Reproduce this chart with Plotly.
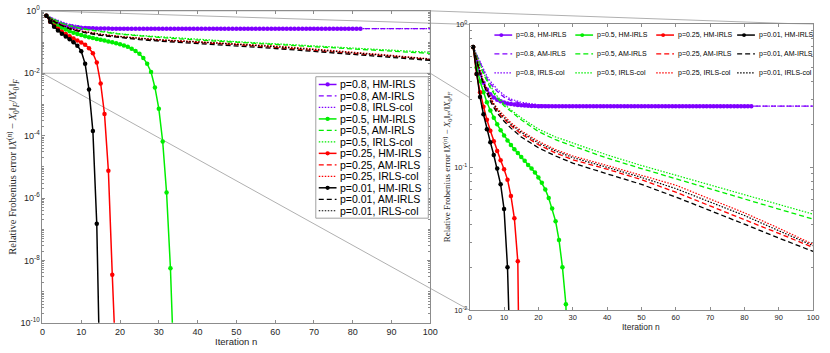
import plotly.graph_objects as go

W, H = 830, 353

# ---------------- data ----------------
it_hm08 = list(range(1, 83))
hm08 = [0.695, 0.55, 0.45, 0.39, 0.35, 0.325, 0.308, 0.297, 0.29, 0.284,
        0.28, 0.277, 0.275, 0.273, 0.272, 0.271, 0.270, 0.269, 0.269, 0.268,
        0.268, 0.268, 0.268, 0.268, 0.268, 0.268, 0.268, 0.268, 0.268, 0.268,
        0.268, 0.268, 0.268, 0.268, 0.268, 0.268, 0.268, 0.268, 0.268, 0.268,
        0.268, 0.268, 0.268, 0.268, 0.268, 0.268, 0.268, 0.268, 0.268, 0.268,
        0.268, 0.268, 0.268, 0.268, 0.268, 0.268, 0.268, 0.268, 0.268, 0.268,
        0.268, 0.268, 0.268, 0.268, 0.268, 0.268, 0.268, 0.268, 0.268, 0.268,
        0.268, 0.268, 0.268, 0.268, 0.268, 0.268, 0.268, 0.268, 0.268, 0.268,
        0.268, 0.268]

it_hm05 = list(range(1, 35))
hm05 = [0.695, 0.50, 0.40, 0.335, 0.285, 0.25, 0.222, 0.2, 0.182, 0.167,
        0.154, 0.143, 0.134, 0.126, 0.118, 0.111, 0.104, 0.098, 0.092, 0.085,
        0.078, 0.070, 0.061, 0.0515, 0.042, 0.031, 0.020, 0.011, 3.5e-3, 7.3e-4,
        6.5e-5, 1.5e-6, 5.6e-9, 1.5e-12]

it_hm025 = list(range(1, 20))
hm025 = [0.695, 0.45, 0.335, 0.265, 0.215, 0.18, 0.152, 0.13, 0.112, 0.097,
         0.082, 0.063, 0.044, 0.022, 4.7e-3, 4.9e-4, 7.5e-6, 3.5e-9, 3e-12]

it_hm001 = list(range(1, 16))
hm001 = [0.695, 0.45, 0.31, 0.235, 0.185, 0.15, 0.122, 0.098, 0.076, 0.051,
         0.020, 3e-3, 1.4e-4, 1.5e-7, 1e-13]

# AM-IRLS and IRLS-col curves, sampled at these iterations
it_s = [1, 2, 3, 4, 5, 6, 7, 8, 10, 12, 15, 20, 25, 30, 40, 50, 60, 70, 80, 90, 100]
am08 = [0.695, 0.61, 0.53, 0.47, 0.42, 0.385, 0.36, 0.34, 0.31, 0.293, 0.28,
        0.272, 0.269, 0.268, 0.268, 0.268, 0.268, 0.268, 0.268, 0.268, 0.268]
col08 = [0.695, 0.62, 0.545, 0.485, 0.435, 0.40, 0.372, 0.352, 0.32, 0.30, 0.285,
         0.274, 0.27, 0.268, 0.268, 0.268, 0.268, 0.268, 0.268, 0.268, 0.268]
am05 = [0.695, 0.59, 0.51, 0.45, 0.40, 0.36, 0.33, 0.305, 0.27, 0.245, 0.215,
        0.178, 0.156, 0.141, 0.116, 0.098, 0.083, 0.071, 0.060, 0.051, 0.0434]
col05 = [0.695, 0.60, 0.52, 0.46, 0.41, 0.37, 0.34, 0.315, 0.278, 0.252, 0.222,
         0.185, 0.163, 0.148, 0.122, 0.103, 0.088, 0.075, 0.064, 0.055, 0.047]
am025 = [0.695, 0.56, 0.46, 0.39, 0.34, 0.30, 0.27, 0.248, 0.218, 0.196, 0.171,
         0.144, 0.126, 0.113, 0.097, 0.082, 0.067, 0.054, 0.043, 0.0345, 0.0275]
col025 = [0.695, 0.57, 0.47, 0.40, 0.35, 0.31, 0.28, 0.258, 0.228, 0.205, 0.18,
          0.152, 0.133, 0.12, 0.103, 0.088, 0.075, 0.060, 0.048, 0.0375, 0.0289]
am001 = [0.695, 0.55, 0.45, 0.38, 0.33, 0.29, 0.262, 0.24, 0.21, 0.188, 0.163,
         0.137, 0.12, 0.107, 0.09, 0.076, 0.062, 0.050, 0.040, 0.032, 0.0258]
col001 = [0.695, 0.565, 0.465, 0.395, 0.345, 0.305, 0.275, 0.253, 0.223, 0.2, 0.176,
          0.148, 0.13, 0.117, 0.1, 0.085, 0.071, 0.057, 0.046, 0.036, 0.0283]

p_labels = ['p=0.8', 'p=0.5', 'p=0.25', 'p=0.01']
colors = ['#8000ff', '#00ee00', '#ff0000', '#000000']
hm_x = [it_hm08, it_hm05, it_hm025, it_hm001]
hm_y = [hm08, hm05, hm025, hm001]
am_y = [am08, am05, am025, am001]
col_y = [col08, col05, col025, col001]

DASH = '5px,3px'
DOT = '1.5px,1.5px'
AXIS_COL = '#8c8c8c'
LINK_COL = '#b0b0b0'
TEXT_COL = '#262626'
methods = [('HM-IRLS', 'solid', 1.5), ('AM-IRLS', DASH, 1.3), ('IRLS-col', DOT, 1.2)]


def px(x):
    return x / W


def py(y):
    return 1 - y / H


# panel geometry (pixels)
L_X0, L_X1, L_Y0, L_Y1 = 40, 433, 5, 327
R_X0, R_X1, R_Y0, R_Y1 = 473, 821, 19, 314

fig = go.Figure()

for i, p in enumerate(p_labels):
    c = colors[i]
    for ax in ('', '2'):
        fig.add_trace(go.Scatter(
            x=hm_x[i], y=hm_y[i], mode='lines+markers', name=f'{p}, HM-IRLS',
            line=dict(color=c, width=1.5), marker=dict(color=c, size=4.5),
            xaxis='x' + ax, yaxis='y' + ax, showlegend=False))
        fig.add_trace(go.Scatter(
            x=it_s, y=am_y[i], mode='lines', name=f'{p}, AM-IRLS',
            line=dict(color=c, width=1.3, dash=DASH),
            xaxis='x' + ax, yaxis='y' + ax, showlegend=False))
        fig.add_trace(go.Scatter(
            x=it_s, y=col_y[i], mode='lines', name=f'{p}, IRLS-col',
            line=dict(color=c, width=1.2, dash=DOT),
            xaxis='x' + ax, yaxis='y' + ax, showlegend=False))

# zoom rectangle in left panel (1e-2 .. 1e0) and connector lines
rect_frac = 0.8  # log10(1e-2) on range [-10, 0]
rect_bot = L_Y1 - rect_frac * (L_Y1 - L_Y0)
link = dict(color=LINK_COL, width=1)
shapes = [
    dict(type='rect', xref='x domain', yref='y domain', x0=0, x1=1, y0=rect_frac, y1=1,
         line=link, layer='below'),
    dict(type='line', xref='paper', yref='paper', x0=px(L_X0), y0=py(L_Y0),
         x1=px(R_X0), y1=py(R_Y0), line=link, layer='below'),
    dict(type='line', xref='paper', yref='paper', x0=px(L_X1), y0=py(L_Y0),
         x1=px(R_X1), y1=py(R_Y0), line=link, layer='below'),
    dict(type='line', xref='paper', yref='paper', x0=px(L_X0), y0=py(rect_bot),
         x1=px(R_X0), y1=py(R_Y1), line=link, layer='below'),
    dict(type='line', xref='paper', yref='paper', x0=px(L_X1), y0=py(rect_bot),
         x1=px(R_X1), y1=py(R_Y1), line=link, layer='below'),
    # right panel background hides the connector behind it
    dict(type='rect', xref='paper', yref='paper', x0=px(R_X0), x1=px(R_X1),
         y0=py(R_Y1), y1=py(R_Y0), fillcolor='white', line=dict(width=0), layer='below'),
]
annotations = []


def legend_entry(x0, yy, length, color, dash, width, marker, mpos, r, text, size):
    shapes.append(dict(type='line', xref='paper', yref='paper', x0=px(x0), x1=px(x0 + length),
                       y0=py(yy), y1=py(yy), line=dict(color=color, width=width, dash=dash),
                       layer='above'))
    if marker:
        cx = x0 + mpos
        shapes.append(dict(type='circle', xref='paper', yref='paper',
                           x0=px(cx - r), x1=px(cx + r), y0=py(yy + r), y1=py(yy - r),
                           fillcolor=color, line=dict(width=0), layer='above'))
    annotations.append(dict(xref='paper', yref='paper', x=px(x0 + length + 2), y=py(yy),
                            xanchor='left', yanchor='middle', showarrow=False, text=text,
                            font=dict(size=size, color='#000', family='Liberation Sans')))


# left legend (boxed, one column)
LG_X0, LG_X1, LG_Y0, LG_Y1 = 317, 431, 73, 219
shapes.append(dict(type='rect', xref='paper', yref='paper', x0=px(LG_X0), x1=px(LG_X1),
                   y0=py(LG_Y1), y1=py(LG_Y0), fillcolor='white',
                   line=dict(color='#a0a0a0', width=1), layer='above'))
row = 0
for i, p in enumerate(p_labels):
    for meth, dash, w in methods:
        legend_entry(320, 81 + 11.85 * row, 18, colors[i], dash, w, meth == 'HM-IRLS', 9, 2.2,
                     f'{p}, {meth}', 10.5)
        row += 1

# right legend (no box, 3 rows x 4 columns)
for i, p in enumerate(p_labels):
    for j, (meth, dash, w) in enumerate(methods):
        legend_entry(498 + 82 * i, 30 + 19.5 * j, 18, colors[i], dash, w, meth == 'HM-IRLS', 7, 2,
                     f'{p}, {meth}', 7)

ytitle = ('Relative Frobenius error &#8214;<i>X</i><sup>(<i>n</i>)</sup> &#8722; '
          '<i>X</i><sub>0</sub>&#8214;<sub><i>F</i></sub>/&#8214;<i>X</i><sub>0</sub>'
          '&#8214;<sub><i>F</i></sub>')
title_kw = dict(xref='paper', yref='paper', xanchor='center', yanchor='middle', showarrow=False)
annotations += [
    dict(x=px(10), y=py((L_Y0 + L_Y1) / 2), text=ytitle, textangle=-90,
         font=dict(size=10.5, color=TEXT_COL, family='Liberation Serif'), **title_kw),
    dict(x=px(450), y=py((R_Y0 + R_Y1) / 2), text=ytitle, textangle=-90,
         font=dict(size=9, color=TEXT_COL, family='Liberation Serif'), **title_kw),
    dict(x=px((L_X0 + L_X1) / 2), y=py(346), text='Iteration n',
         font=dict(size=9.5, color=TEXT_COL), **title_kw),
    dict(x=px((R_X0 + R_X1) / 2), y=py(331), text='Iteration n',
         font=dict(size=8.5, color=TEXT_COL), **title_kw),
]

dec_left = [10.0 ** k for k in range(-10, 1, 2)]
dec_left_txt = [f'10<sup>{k}</sup>' for k in range(-10, 1, 2)]
minor_left = [m * 10.0 ** k for k in range(-10, 0) for m in range(1, 10) if not (m == 1 and k % 2 == 0)]
dec_right = [1e-2, 1e-1, 1]
dec_right_txt = ['10<sup>-2</sup>', '10<sup>-1</sup>', '10<sup>0</sup>']
minor_right = [m * 10.0 ** k for k in (-2, -1) for m in range(2, 10)]

xcommon = dict(range=[0, 100], dtick=10, ticks='inside', ticklen=3, tickcolor=AXIS_COL,
               showline=True, linecolor=AXIS_COL, linewidth=1, mirror='ticks',
               showgrid=False, zeroline=False)
ycommon = dict(type='log', ticks='inside', ticklen=3, tickcolor=AXIS_COL, tickmode='array',
               showline=True, linecolor=AXIS_COL, linewidth=1, mirror='ticks',
               showgrid=False, zeroline=False)

fig.update_layout(
    width=W, height=H,
    margin=dict(l=0, r=0, t=0, b=0),
    paper_bgcolor='white', plot_bgcolor='white',
    font=dict(family='Liberation Sans', color=TEXT_COL),
    showlegend=False,
    xaxis=dict(domain=[px(L_X0), px(L_X1)], anchor='y',
               tickfont=dict(size=9), **xcommon),
    yaxis=dict(domain=[py(L_Y1), py(L_Y0)], anchor='x', range=[-10, 0],
               tickvals=dec_left, ticktext=dec_left_txt, tickfont=dict(size=9),
               minor=dict(tickmode='array', tickvals=minor_left, ticks='inside',
                          ticklen=2, tickcolor=AXIS_COL),
               **ycommon),
    xaxis2=dict(domain=[px(R_X0), px(R_X1)], anchor='y2',
                tickfont=dict(size=7.5), **xcommon),
    yaxis2=dict(domain=[py(R_Y1), py(R_Y0)], anchor='x2', range=[-2, 0],
                tickvals=dec_right, ticktext=dec_right_txt, tickfont=dict(size=7.5),
                minor=dict(tickmode='array', tickvals=minor_right, ticks='inside',
                           ticklen=2, tickcolor=AXIS_COL),
                **ycommon),
    shapes=shapes,
    annotations=annotations,
)

fig.write_html('out.html', config={'displayModeBar': False},
               post_script="document.body.style.margin='0';"
                           "document.body.style.overflow='hidden';"
                           "document.documentElement.style.overflow='hidden';")
